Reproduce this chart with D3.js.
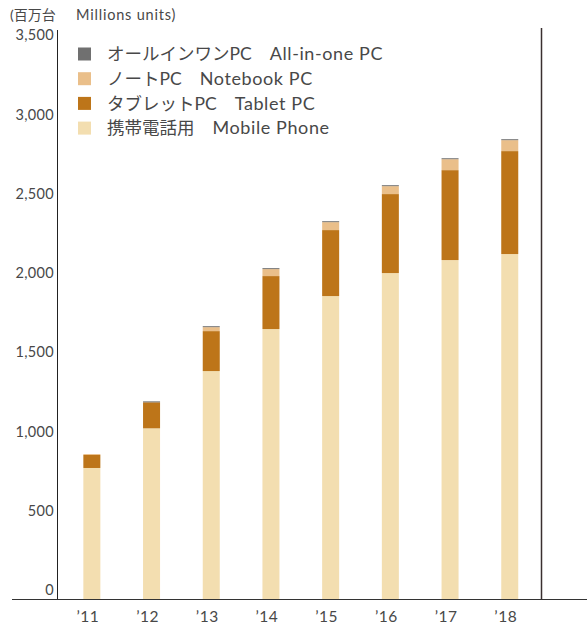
<!DOCTYPE html>
<html><head><meta charset="utf-8">
<script src="https://cdn.jsdelivr.net/npm/d3@7"></script>
<style>
body{margin:0;background:#fff;}
svg text{font-family:Lato,"Noto Sans CJK JP",sans-serif;fill:#484848;font-weight:400;}
</style></head>
<body>
<svg id="c" width="587" height="629"></svg>
<script>
const years = ["’11","’12","’13","’14","’15","’16","’17","’18"];
const phone = [828, 1078, 1439, 1704, 1912, 2057, 2139, 2177];
const tablet = [82, 164, 252, 334, 416, 498, 567, 649];
const notebook = [6, 0, 25, 44, 50, 50, 69, 69];
const allInOne = [0, 6, 6, 6, 6, 6, 6, 6];
const yTicks = [0, 500, 1000, 1500, 2000, 2500, 3000, 3500];
const seriesKeys = ["phone","tablet","notebook","aio"];
const seriesJP = {aio:"オールインワンPC", notebook:"ノートPC", tablet:"タブレットPC", phone:"携帯電話用"};
const seriesEN = {aio:"All-in-one PC", notebook:"Notebook PC", tablet:"Tablet PC", phone:"Mobile Phone"};
const legendOrder = ["aio","notebook","tablet","phone"];
const colors = {phone:"#F3DEB0", tablet:"#BD7519", notebook:"#EABF8A", aio:"#707070"};

const rows = years.map((y,i)=>({year:y, phone:phone[i], tablet:tablet[i], notebook:notebook[i], aio:allInOne[i]}));

const svg = d3.select("#c");
const x = d3.scaleBand().domain(years).range([62, 539.6]).paddingInner(0.715).paddingOuter(0.3575);
const y = d3.scaleLinear().domain([0,3500]).range([599.3, 44.2]);

const stack = d3.stack().keys(seriesKeys)(rows);
svg.append("g").selectAll("g").data(stack).join("g")
  .attr("fill", d=>colors[d.key])
  .selectAll("rect").data(d=>d).join("rect")
  .attr("x", d=>x(d.data.year))
  .attr("width", x.bandwidth())
  .attr("y", d=>y(d[1]))
  .attr("height", d=>Math.max(0, y(d[0])-y(d[1])));

// axes lines
svg.append("line").attr("x1",57.5).attr("x2",57.5).attr("y1",30).attr("y2",599.5).attr("stroke","#222").attr("stroke-width",1);
svg.append("line").attr("x1",12).attr("x2",587).attr("y1",599.5).attr("y2",599.5).attr("stroke","#333").attr("stroke-width",1);
svg.append("line").attr("x1",541.5).attr("x2",541.5).attr("y1",28).attr("y2",599.5).attr("stroke","#3a3030").attr("stroke-width",1.5);

// y labels
const fmt = d3.format(",");
svg.append("g").selectAll("text").data(yTicks).join("text")
  .attr("x",54).attr("y",d=>y(d)-9).attr("dy","0.35em")
  .attr("text-anchor","end").attr("font-size",14.5).attr("letter-spacing",0.3)
  .text(d=>fmt(d));

// x labels
svg.append("g").selectAll("text").data(years).join("text")
  .attr("x",d=>x(d)+x.bandwidth()/2-4).attr("y",617).attr("dy","0.35em")
  .attr("text-anchor","middle").attr("font-size",15.5).attr("letter-spacing",0.5)
  .text(d=>d);

// unit
svg.append("text").attr("x",10).attr("y",15).attr("dy","0.35em").attr("font-size",14).text("(百万台");
svg.append("text").attr("x",76).attr("y",15).attr("dy","0.35em").attr("font-size",14.5).attr("letter-spacing",0.8)
  .text("Millions units)");

// legend
const lg = svg.append("g");
legendOrder.forEach((k,i)=>{
  const cy = 54 + i*24.7;
  lg.append("rect").attr("x",78).attr("y",cy-6.5).attr("width",13).attr("height",13).attr("fill",colors[k]);
  const t = lg.append("text").attr("x",107).attr("y",cy).attr("dy","0.35em").attr("font-size",17.5).text(seriesJP[k]);
  const w = t.node().getComputedTextLength();
  lg.append("text").attr("x",107+w+18).attr("y",cy).attr("dy","0.35em").attr("font-size",18).attr("letter-spacing",0.6).text(seriesEN[k]);
});
</script>
</body></html>
